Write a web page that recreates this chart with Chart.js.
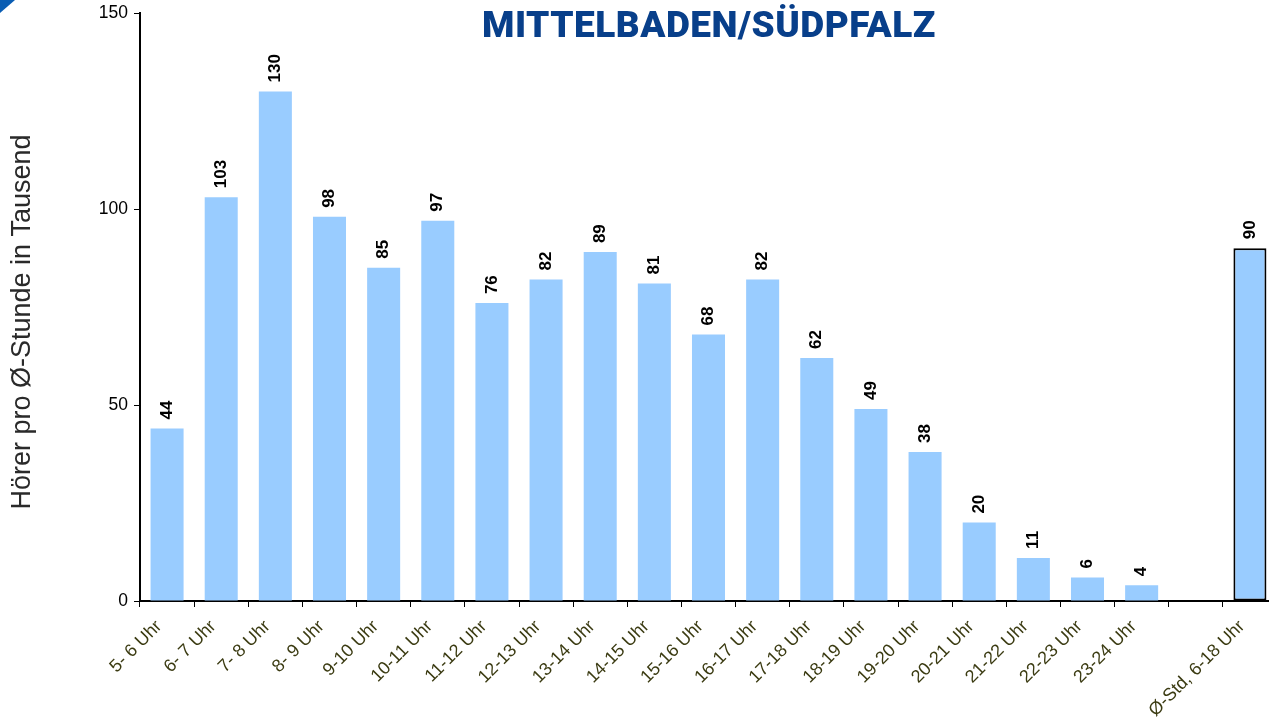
<!DOCTYPE html>
<html>
<head>
<meta charset="utf-8">
<script src="https://cdn.jsdelivr.net/npm/chart.js@4"></script>
<style>
  html, body { margin: 0; padding: 0; background: #fff; overflow: hidden; }
  #wrap { position: relative; width: 1269px; height: 724px; overflow: hidden; }
  #chart { position: absolute; left: 0; top: 0; }
  #title {
    position: absolute; left: 0; width: 1418px; top: 3px; text-align: center;
    font-family: Roboto, "Liberation Sans", sans-serif; font-weight: 900;
    font-size: 37px; letter-spacing: 0.5px; color: #083f8a; white-space: nowrap;
  }
  #corner {
    position: absolute; left: 0; top: 0; width: 0; height: 0;
    border-top: 13px solid #0a5db3; border-right: 15px solid transparent;
  }
</style>
</head>
<body>
<div id="wrap">
  <canvas id="chart" width="1282" height="724"></canvas>
  <div id="title">MITTELBADEN/SÜDPFALZ</div>
  <div id="corner"></div>
</div>
<script>
const hours = ['5- 6 Uhr', '6- 7 Uhr', '7- 8 Uhr', '8- 9 Uhr', '9-10 Uhr', '10-11 Uhr',
  '11-12 Uhr', '12-13 Uhr', '13-14 Uhr', '14-15 Uhr', '15-16 Uhr', '16-17 Uhr',
  '17-18 Uhr', '18-19 Uhr', '19-20 Uhr', '20-21 Uhr', '21-22 Uhr', '22-23 Uhr',
  '23-24 Uhr', '', 'Ø-Std, 6-18 Uhr'];
const listeners = [44, 103, 130, 98, 85, 97, 76, 82, 89, 81, 68, 82, 62, 49, 38, 20, 11, 6, 4, null, 90];
const yTicks = [0, 50, 100, 150];

// the average bar gets a black frame
const borderColors = listeners.map((v, i) => i === listeners.length - 1 ? '#000' : 'rgba(0,0,0,0)');
const borderWidths = listeners.map((v, i) => i === listeners.length - 1 ? 2 : 0);

const valueLabels = {
  id: 'valueLabels',
  afterDatasetsDraw(chart) {
    const ctx = chart.ctx;
    const meta = chart.getDatasetMeta(0);
    ctx.save();
    ctx.font = 'bold 17px "Liberation Sans", Arial, sans-serif';
    ctx.fillStyle = '#000';
    ctx.textAlign = 'left';
    ctx.textBaseline = 'middle';
    meta.data.forEach((bar, i) => {
      const v = listeners[i];
      if (v == null) return;
      ctx.save();
      ctx.translate(bar.x, bar.y);
      ctx.rotate(-Math.PI / 2);
      ctx.fillText(String(v), 9, 0);
      ctx.restore();
    });
    ctx.restore();
  }
};

new Chart(document.getElementById('chart'), {
  type: 'bar',
  data: {
    labels: hours,
    datasets: [{
      data: listeners,
      backgroundColor: '#99ccff',
      borderColor: borderColors,
      borderWidth: borderWidths,
      borderSkipped: false,
      barPercentage: 0.61,
      categoryPercentage: 1
    }]
  },
  options: {
    responsive: false,
    animation: false,
    devicePixelRatio: 1,
    layout: { padding: { top: 13, right: 5, left: 0, bottom: 0 } },
    plugins: {
      legend: { display: false },
      tooltip: { enabled: false }
    },
    scales: {
      x: {
        offset: true,
        afterFit: (scale) => { scale.height = 123; },
        grid: { display: true, drawOnChartArea: false, drawTicks: true, tickLength: 6, color: '#000', offset: true },
        border: { display: true, color: '#000', width: 2 },
        ticks: {
          autoSkip: false, maxRotation: 45, minRotation: 45, padding: 9, labelOffset: -8,
          color: '#3b3b12',
          font: { family: '"Liberation Sans", Arial, sans-serif', size: 18 }
        }
      },
      y: {
        min: 0, max: 150,
        afterFit: (scale) => { scale.width = 140; scale.paddingTop = 0; scale.paddingBottom = 0; },
        afterBuildTicks: (scale) => { scale.ticks = yTicks.map(v => ({ value: v })); },
        grid: { display: true, drawOnChartArea: false, drawTicks: true, tickLength: 6, color: '#000' },
        border: { display: true, color: '#000', width: 2 },
        ticks: {
          color: '#000', padding: 6,
          font: { family: '"Liberation Sans", Arial, sans-serif', size: 17.5 }
        },
        title: {
          display: true,
          text: 'Hörer pro Ø-Stunde in Tausend\u00a0\u00a0\u00a0\u00a0',
          color: '#2a2a2a',
          padding: { top: 6, bottom: 0 },
          font: { family: '"Liberation Sans", Arial, sans-serif', size: 27, weight: 'normal' }
        }
      }
    }
  },
  plugins: [valueLabels]
});
</script>
</body>
</html>
